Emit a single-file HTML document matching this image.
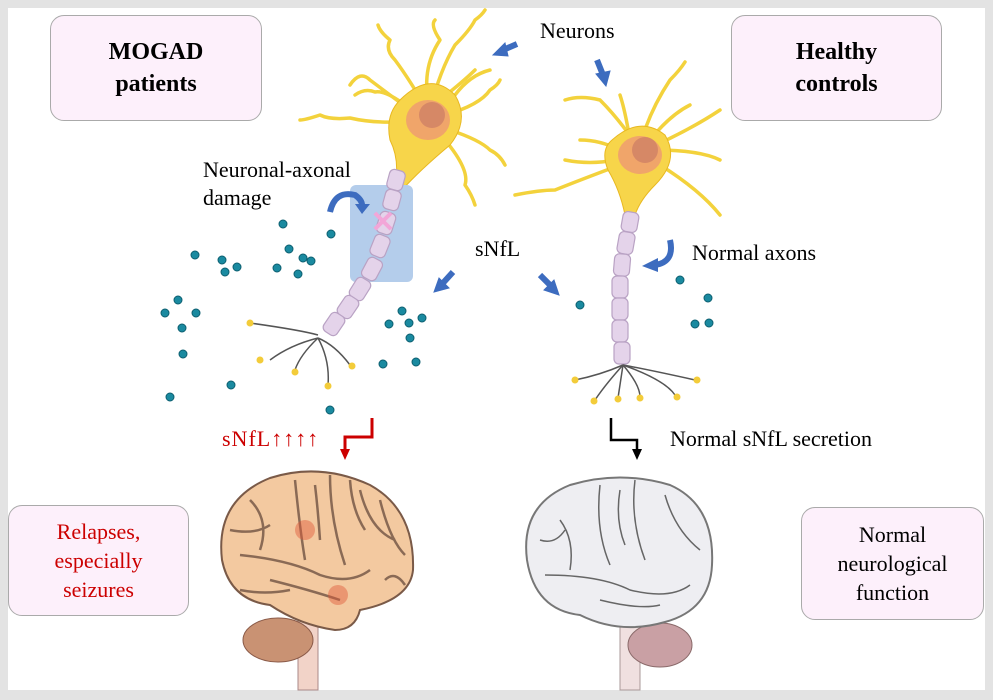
<!DOCTYPE html><html><head><style>
body{margin:0;background:#e3e3e3;}
.w{position:absolute;left:8px;top:8px;width:977px;height:682px;background:#fff;}
.t{position:absolute;font-family:"Liberation Serif",serif;color:#000;}
.box{position:absolute;background:#fdf0fb;border:1.5px solid #aaa;border-radius:14px;font-family:"Liberation Serif",serif;text-align:center;display:flex;align-items:center;justify-content:center;}
</style></head><body>
<div style="position:relative;width:993px;height:700px;overflow:hidden;background:#e3e3e3">
<div class="w"></div>
<svg width="993" height="700" style="position:absolute;left:0;top:0">
<defs>
<marker id="ar" markerUnits="userSpaceOnUse" markerWidth="12" markerHeight="12" refX="3" refY="6" orient="auto"><path d="M0,1 L11,6 L0,11z" fill="#c00"/></marker>
<marker id="ab" markerUnits="userSpaceOnUse" markerWidth="12" markerHeight="12" refX="3" refY="6" orient="auto"><path d="M0,1 L11,6 L0,11z" fill="#000"/></marker>
</defs>
<!-- left neuron dendrites -->
<g fill="none" stroke="#f3d23c" stroke-width="3.5" stroke-linecap="round" stroke-linejoin="round">
<path d="M430,115 Q410,80 395,60 Q385,50 390,40 Q380,32 378,25"/><path d="M430,110 Q440,70 455,45 Q470,30 475,20 Q482,15 485,10"/>
<path d="M430,110 Q420,70 440,40 Q430,25 435,20"/><path d="M420,120 Q380,125 350,118 Q330,120 320,115 Q305,120 300,120"/>
<path d="M410,110 Q390,95 370,80 Q360,70 350,85"/><path d="M450,130 Q480,140 490,150 Q500,155 505,165"/>
<path d="M445,115 Q480,105 490,90 Q498,85 500,80"/><path d="M445,140 Q470,170 465,185 Q472,195 475,205"/><path d="M440,100 Q465,80 475,70"/>
<path d="M405,105 Q385,90 375,92 Q365,88 355,95"/><path d="M455,95 Q470,75 490,70"/>
</g>
<path d="M400,100 Q430,70 455,95 Q470,120 450,145 Q420,170 402,190 L395,185 Q400,160 390,140 Q385,115 400,100z" fill="#f7d54a" stroke="#e8b820"/>
<ellipse cx="428" cy="120" rx="22" ry="20" fill="#f0a56a"/><ellipse cx="432" cy="115" rx="13" ry="13" fill="#d68866"/>
<!-- right neuron -->
<g fill="none" stroke="#f3d23c" stroke-width="3.5" stroke-linecap="round" stroke-linejoin="round">
<path d="M640,150 Q620,120 600,100 Q580,95 565,100"/><path d="M640,145 Q650,110 670,80 Q680,70 685,62"/>
<path d="M645,150 Q690,130 720,110"/><path d="M620,165 Q580,180 555,190 Q540,190 515,195"/>
<path d="M620,150 Q600,140 580,140"/><path d="M660,165 Q700,190 720,215"/><path d="M655,150 Q700,150 720,160"/>
<path d="M630,140 Q625,110 620,95"/><path d="M615,160 Q590,165 565,160"/><path d="M650,140 Q670,115 690,105"/>
</g>
<path d="M612,140 Q640,115 665,135 Q680,160 655,185 Q640,200 635,215 L625,215 Q620,190 608,170 Q600,150 612,140z" fill="#f7d54a" stroke="#e8b820"/>
<ellipse cx="640" cy="155" rx="22" ry="19" fill="#f0a56a"/><ellipse cx="645" cy="150" rx="13" ry="13" fill="#d68866"/>
<!-- blue rect -->
<rect x="350" y="185" width="63" height="97" rx="6" fill="#b4cdeb"/>
<!-- axons -->
<g fill="#e4d3ea" stroke="#b9a2c4" stroke-width="1.2">
<rect x="388" y="170" width="16" height="20" rx="5" transform="rotate(15 396 180)"/>
<rect x="384" y="190" width="16" height="20" rx="5" transform="rotate(15 392 200)"/>
<rect x="378" y="212" width="16" height="22" rx="5" transform="rotate(18 386 223)"/>
<rect x="372" y="235" width="16" height="22" rx="5" transform="rotate(22 380 246)"/>
<rect x="364" y="258" width="16" height="22" rx="5" transform="rotate(28 372 269)"/>
<rect x="352" y="278" width="16" height="22" rx="5" transform="rotate(32 360 289)"/>
<rect x="340" y="296" width="16" height="22" rx="5" transform="rotate(34 348 307)"/>
<rect x="326" y="313" width="16" height="22" rx="5" transform="rotate(34 334 324)"/>
<rect x="622" y="212" width="16" height="20" rx="5" transform="rotate(10 630 222)"/>
<rect x="618" y="232" width="16" height="22" rx="5" transform="rotate(10 626 243)"/>
<rect x="614" y="254" width="16" height="22" rx="5" transform="rotate(5 622 265)"/>
<rect x="612" y="276" width="16" height="22" rx="5"/>
<rect x="612" y="298" width="16" height="22" rx="5"/>
<rect x="612" y="320" width="16" height="22" rx="5"/>
<rect x="614" y="342" width="16" height="22" rx="5"/>
</g>
<text x="383" y="232" font-size="30" fill="#f2a6d8" text-anchor="middle" font-family="Liberation Sans" font-weight="bold">✕</text>
<!-- terminals -->
<g fill="none" stroke="#555" stroke-width="1.5">
<path d="M318,335 Q300,330 250,323"/><path d="M318,338 Q290,345 270,360"/><path d="M318,338 Q335,345 350,365"/><path d="M318,338 Q330,360 328,385"/><path d="M318,338 Q300,355 295,370"/>
<path d="M623,365 Q600,375 575,380"/><path d="M623,365 Q650,370 695,380"/><path d="M623,365 Q605,385 595,400"/><path d="M623,365 Q620,385 618,398"/><path d="M623,365 Q640,385 640,397"/><path d="M623,365 Q665,380 675,395"/>
</g>
<g fill="#f3cc3a"><circle cx="250" cy="323" r="3.5"/><circle cx="260" cy="360" r="3.5"/><circle cx="352" cy="366" r="3.5"/><circle cx="328" cy="386" r="3.5"/><circle cx="295" cy="372" r="3.5"/>
<circle cx="575" cy="380" r="3.5"/><circle cx="697" cy="380" r="3.5"/><circle cx="594" cy="401" r="3.5"/><circle cx="618" cy="399" r="3.5"/><circle cx="640" cy="398" r="3.5"/><circle cx="677" cy="397" r="3.5"/></g>
<!-- dots -->
<g fill="#1a8aa0" stroke="#0d5f70" stroke-width="1">
<circle cx="283" cy="224" r="4"/><circle cx="331" cy="234" r="4"/><circle cx="195" cy="255" r="4"/><circle cx="222" cy="260" r="4"/><circle cx="237" cy="267" r="4"/><circle cx="225" cy="272" r="4"/><circle cx="289" cy="249" r="4"/><circle cx="303" cy="258" r="4"/><circle cx="277" cy="268" r="4"/><circle cx="298" cy="274" r="4"/><circle cx="311" cy="261" r="4"/><circle cx="178" cy="300" r="4"/><circle cx="165" cy="313" r="4"/><circle cx="196" cy="313" r="4"/><circle cx="182" cy="328" r="4"/><circle cx="183" cy="354" r="4"/><circle cx="170" cy="397" r="4"/><circle cx="231" cy="385" r="4"/><circle cx="330" cy="410" r="4"/><circle cx="402" cy="311" r="4"/><circle cx="389" cy="324" r="4"/><circle cx="409" cy="323" r="4"/><circle cx="422" cy="318" r="4"/><circle cx="410" cy="338" r="4"/><circle cx="383" cy="364" r="4"/><circle cx="416" cy="362" r="4"/>
<circle cx="580" cy="305" r="4"/><circle cx="680" cy="280" r="4"/><circle cx="708" cy="298" r="4"/><circle cx="695" cy="324" r="4"/><circle cx="709" cy="323" r="4"/></g>
<!-- blue arrows -->
<g stroke="#3d6cbf" stroke-width="6" fill="#3d6cbf">
<line x1="517" y1="44" x2="503" y2="50"/><path d="M493,55 L505,43 L508,56z" stroke-width="1"/>
<line x1="597" y1="60" x2="603" y2="75"/><path d="M606,86 L596,74 L610,71z" stroke-width="1"/>
<line x1="453" y1="272" x2="443" y2="283"/><path d="M434,292 L439,278 L449,288z" stroke-width="1"/>
<line x1="540" y1="275" x2="550" y2="285"/><path d="M559,295 L544,290 L554,280z" stroke-width="1"/>
</g>
<path d="M330,212 Q335,190 355,195 Q362,200 362,205" fill="none" stroke="#3d6cbf" stroke-width="6"/><path d="M355,204 L370,204 L362,214z" fill="#3d6cbf"/>
<path d="M670,240 Q675,262 655,265" fill="none" stroke="#3d6cbf" stroke-width="6"/><path d="M658,258 L642,266 L658,272z" fill="#3d6cbf"/>
<!-- connectors -->
<polyline points="372,418 372,437 345,437 345,452" fill="none" stroke="#c00" stroke-width="3" marker-end="url(#ar)"/>
<polyline points="611,418 611,440 637,440 637,452" fill="none" stroke="#000" stroke-width="2.5" marker-end="url(#ab)"/>
<!-- left brain -->
<rect x="298" y="620" width="20" height="70" fill="#f2d3c8" stroke="#a88" />
<ellipse cx="278" cy="640" rx="35" ry="22" fill="#c99273" stroke="#8a5a48"/>
<path d="M222,560 Q215,500 270,478 Q320,462 370,485 Q415,510 413,570 Q410,600 360,610 Q355,630 335,630 Q300,625 270,605 Q230,600 222,560z" fill="#f3c9a0" stroke="#7a5a48" stroke-width="2"/>
<g fill="none" stroke="#8a6a55" stroke-width="2.5"><path d="M295,480 Q300,530 305,560"/><path d="M330,475 Q330,520 345,565"/><path d="M250,500 Q270,520 260,550"/><path d="M240,555 Q290,560 320,575 Q350,585 370,570"/><path d="M360,490 Q370,530 395,540"/><path d="M380,500 Q390,540 405,555"/><path d="M270,580 Q310,590 340,600"/><path d="M230,530 Q255,535 270,525"/><path d="M315,485 Q318,510 320,540"/><path d="M350,480 Q352,510 365,530"/><path d="M385,580 Q395,570 405,585"/><path d="M240,590 Q265,595 290,590"/></g>
<g fill="#e05a3a" opacity=".45"><circle cx="305" cy="530" r="10"/><circle cx="338" cy="595" r="10"/></g>
<!-- right brain -->
<rect x="620" y="625" width="20" height="65" fill="#f0e0e0" stroke="#a99"/>
<ellipse cx="660" cy="645" rx="32" ry="22" fill="#c9a0a4" stroke="#8a6a6a"/>
<path d="M527,560 Q520,505 570,485 Q620,470 670,485 Q715,505 712,565 Q710,610 665,622 Q620,635 580,615 Q535,610 527,560z" fill="#eeeef2" stroke="#777" stroke-width="2"/>
<g fill="none" stroke="#666" stroke-width="1.5"><path d="M600,485 Q595,530 610,565"/><path d="M635,480 Q630,520 645,560"/><path d="M560,520 Q575,540 570,570"/><path d="M545,575 Q600,575 630,590 Q670,600 690,585"/><path d="M665,495 Q675,530 700,550"/><path d="M620,490 Q615,520 625,545"/><path d="M540,540 Q555,545 565,530"/><path d="M600,600 Q640,610 660,605"/></g>
</svg>
<div class="box" style="left:50px;top:15px;width:210px;height:104px;font-size:24px;font-weight:bold;line-height:32px">MOGAD<br>patients</div>
<div class="box" style="left:731px;top:15px;width:209px;height:104px;font-size:24px;font-weight:bold;line-height:32px">Healthy<br>controls</div>
<div class="box" style="left:8px;top:505px;width:179px;height:109px;font-size:22px;line-height:29px;color:#c00">Relapses,<br>especially<br>seizures</div>
<div class="box" style="left:801px;top:507px;width:181px;height:111px;font-size:22px;line-height:29px">Normal<br>neurological<br>function</div>
<div class="t" style="left:540px;top:18px;font-size:22px">Neurons</div>
<div class="t" style="left:203px;top:156px;font-size:22px;line-height:28px">Neuronal-axonal<br>damage</div>
<div class="t" style="left:475px;top:236px;font-size:22px">sNfL</div>
<div class="t" style="left:692px;top:240px;font-size:22px">Normal axons</div>
<div class="t" style="left:222px;top:426px;font-size:22px;color:#c00;letter-spacing:1px">sNfL↑↑↑↑</div>
<div class="t" style="left:670px;top:426px;font-size:22px">Normal sNfL secretion</div>
</div>
</body></html>
